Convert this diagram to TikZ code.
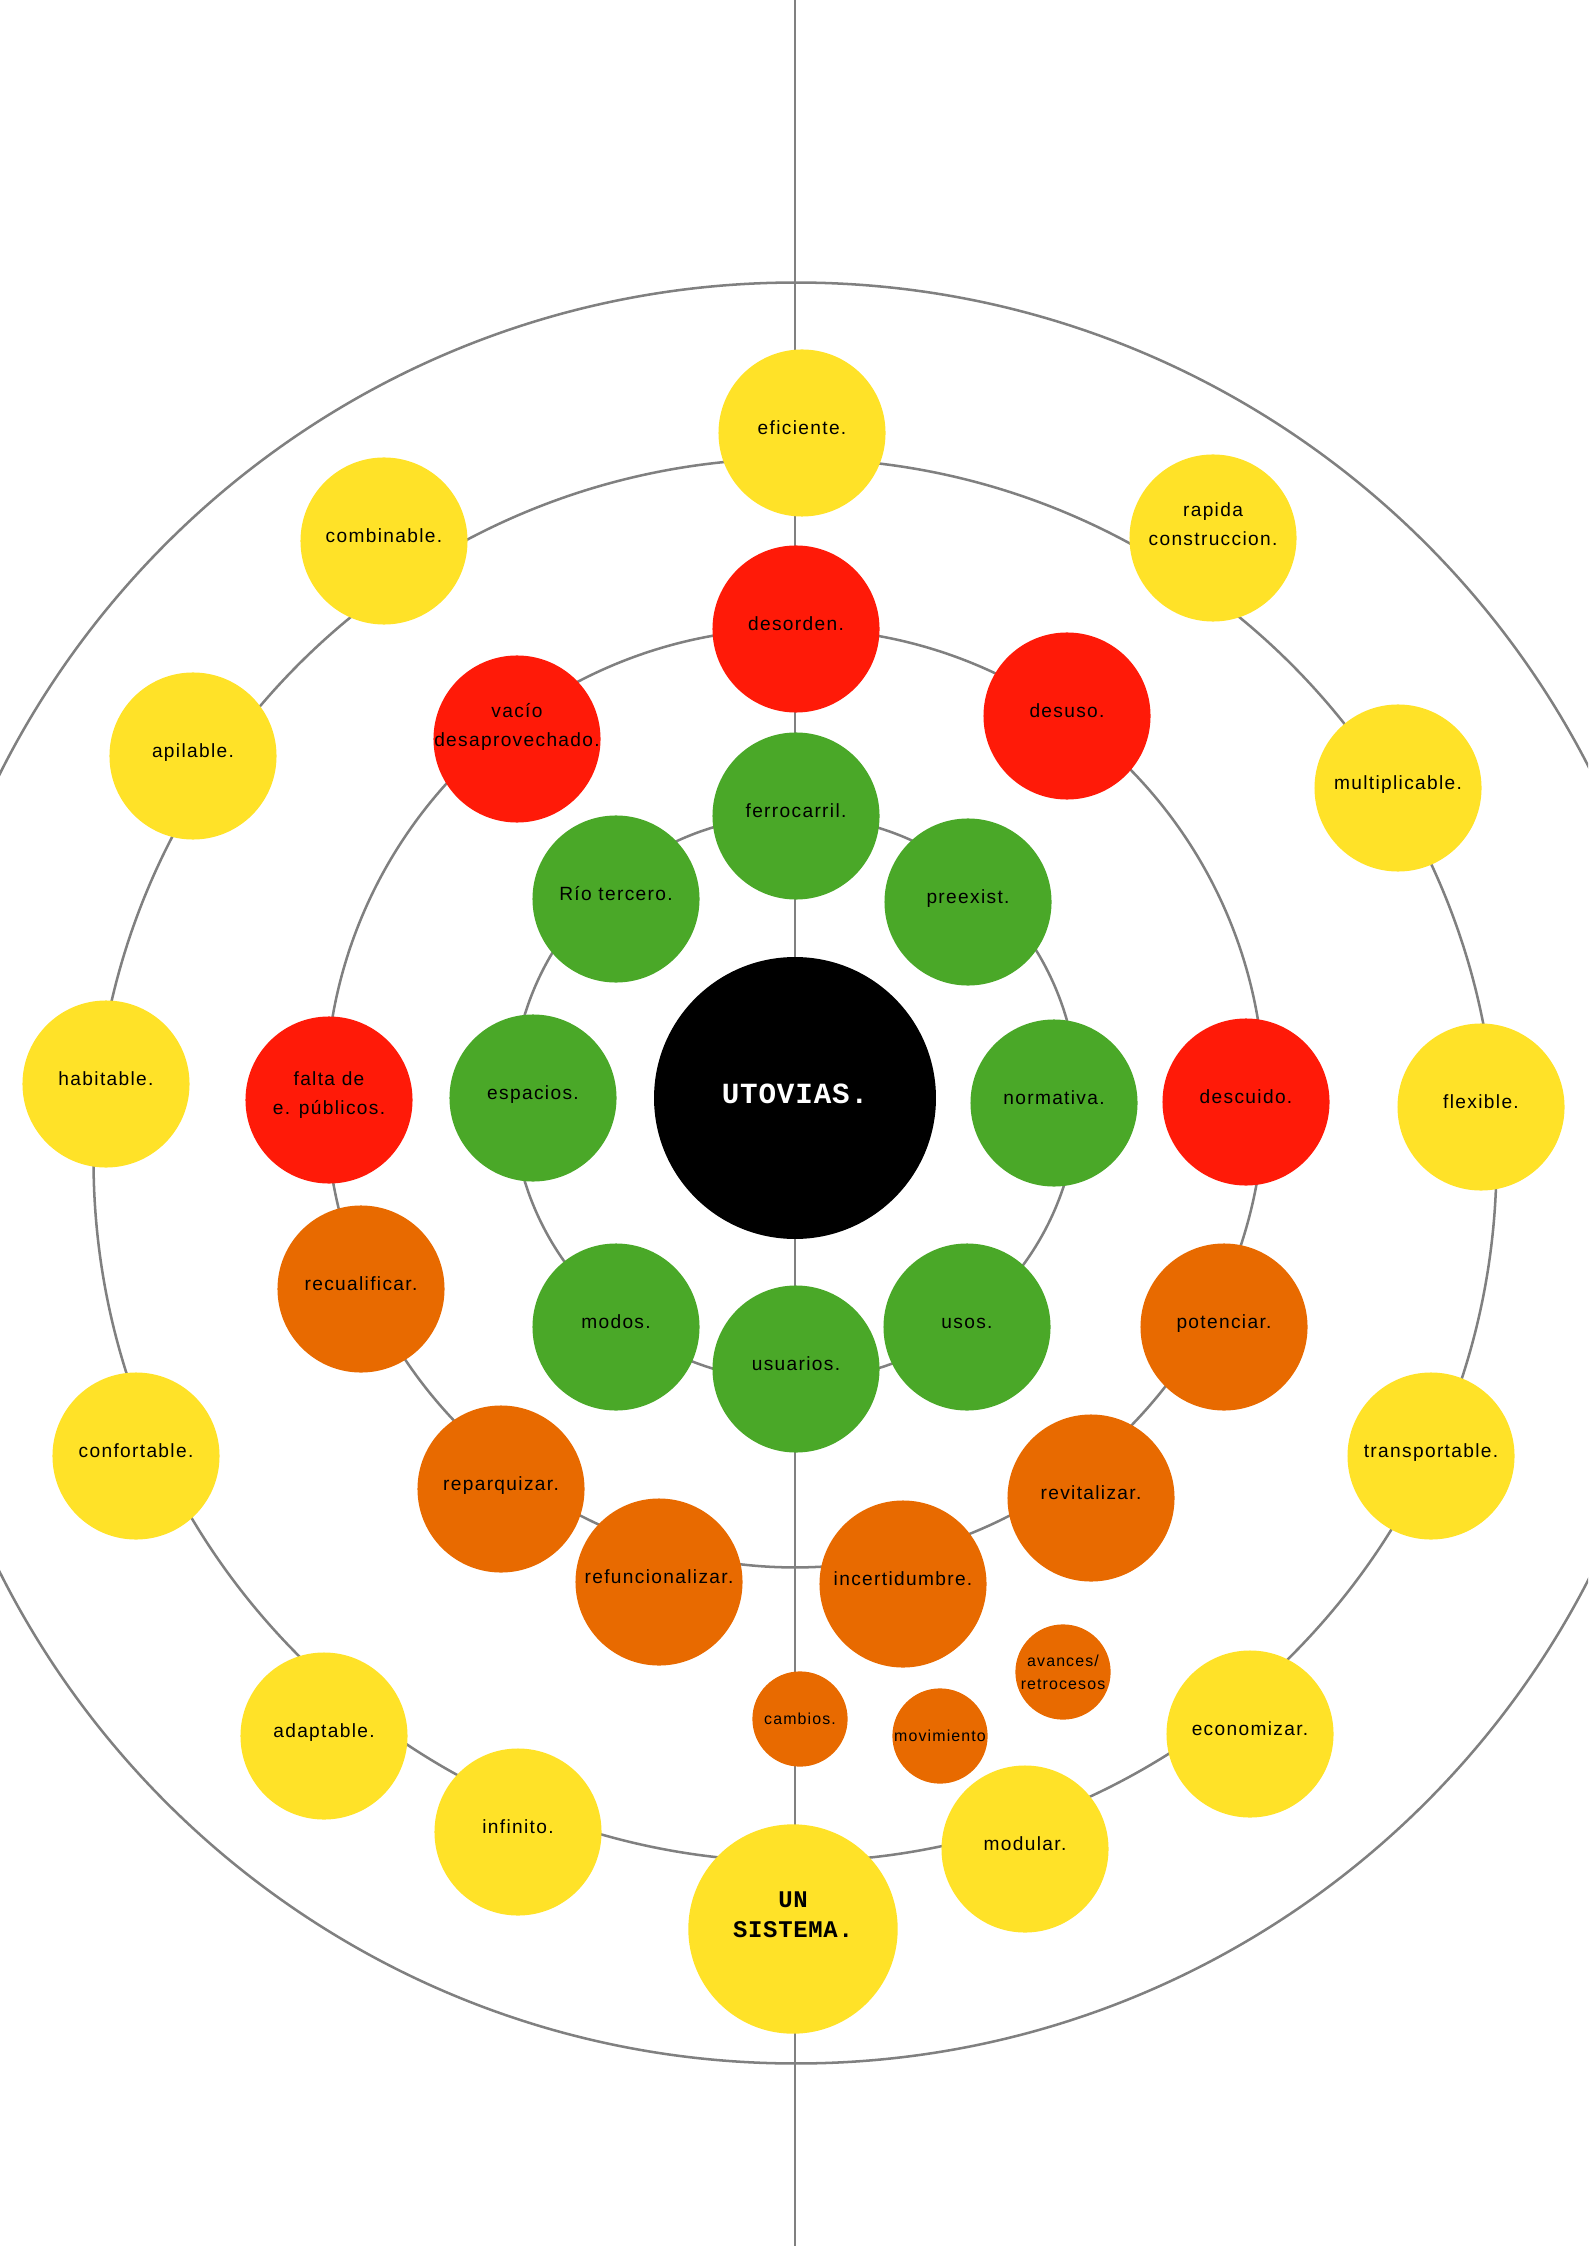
\documentclass[tikz,border=0pt]{standalone}
\usepackage{fontspec}
\setmainfont{Liberation Sans}[LetterSpace=7]
\newfontfamily\typefont{Liberation Mono}[LetterSpace=3]
\definecolor{utyellow}{RGB}{255,226,40}
\definecolor{utred}{RGB}{255,26,8}
\definecolor{utorange}{RGB}{232,106,0}
\definecolor{utgreen}{RGB}{74,168,40}
\definecolor{utgray}{RGB}{128,128,128}

\begin{document}
\begin{tikzpicture}[x=0.013224cm, y=-0.013224cm,
    ring/.style={utgray, line width=0.95pt},
    bubble/.style={circle, minimum size=2.21cm, inner sep=0pt, align=center,
                   text height=5.3pt, text depth=4pt,
                   font=\fontsize{7.2}{10.9}\selectfont},
    twoline/.style={text height=10pt, text depth=4.7pt, inner xsep=-4pt},
    ybub/.style={bubble, fill=utyellow},
    rbub/.style={bubble, fill=utred},
    gbub/.style={bubble, fill=utgreen},
    obub/.style={bubble, fill=utorange},
    small/.style={circle, fill=utorange, minimum size=1.26cm, inner sep=0pt,
                  align=center, font=\fontsize{6}{8.7}\selectfont},
    title/.style={circle, inner sep=0pt, align=center,
                  font=\typefont\bfseries\fontsize{11}{13}\selectfont}
  ]
    \useasboundingbox (0,0) rectangle (1588,2246);
    \clip (0,0) rectangle (1588,2246);

    % Centres
    \coordinate (hub) at (795,1098);
    \coordinate (outerc) at (796,1173);
    \coordinate (yellowc) at (795,1160);
    \coordinate (axistop) at (795,0);
    \coordinate (axisbot) at (795,2246);

    % Axis and rings
    \draw[ring] (axistop) -- (axisbot);
    \draw[ring] (outerc) circle [radius=11.78cm];
    \draw[ring] (yellowc) circle [radius=9.28cm];
    \draw[ring] (hub) circle [radius=6.21cm];
    \draw[ring] (hub) circle [radius=3.74cm];

    % Core
    \node[title, fill=black, text=white, minimum size=3.73cm,
          text height=9pt, text depth=4.6pt] (utovias) at (hub) {UTOVIAS.};

    % Green ring
    \node[gbub] (ferro) at (796,816) {ferrocarril.};
    \node[gbub] (rio) at (616,899) {Río tercero.};
    \node[gbub] (preex) at (968,902) {preexist.};
    \node[gbub] (espacios) at (533,1098) {espacios.};
    \node[gbub] (normativa) at (1054,1103) {normativa.};
    \node[gbub] (modos) at (616,1327) {modos.};
    \node[gbub] (usos) at (967,1327) {usos.};
    \node[gbub] (usuarios) at (796,1369) {usuarios.};

    % Red ring
    \node[rbub] (desorden) at (796,629) {desorden.};
    \node[rbub, twoline] (vacio) at (517,739) {vacío\\desaprovechado.};
    \node[rbub] (desuso) at (1067,716) {desuso.};
    \node[rbub, twoline, text height=14pt, text depth=3.3pt] (falta) at (329,1100) {falta de\\e. públicos.};
    \node[rbub] (descuido) at (1246,1102) {descuido.};

    % Orange ring
    \node[obub] (recual) at (361,1289) {recualificar.};
    \node[obub] (potenciar) at (1224,1327) {potenciar.};
    \node[obub] (reparq) at (501,1489) {reparquizar.};
    \node[obub] (revital) at (1091,1498) {revitalizar.};
    \node[obub] (refunc) at (659,1582) {refuncionalizar.};
    \node[obub] (incert) at (903,1584) {incertidumbre.};
    \node[small] (cambios) at (800,1719) {cambios.};
    \node[small] (movim) at (940,1736) {movimiento};
    \node[small] (avances) at (1063,1672) {avances/\\retrocesos};

    % Yellow ring
    \node[ybub] (eficiente) at (802,433) {eficiente.};
    \node[ybub] (combinable) at (384,541) {combinable.};
    \node[ybub, twoline] (rapida) at (1213,538) {rapida\\construccion.};
    \node[ybub] (apilable) at (193,756) {apilable.};
    \node[ybub] (multipl) at (1398,788) {multiplicable.};
    \node[ybub] (habitable) at (106,1084) {habitable.};
    \node[ybub] (flexible) at (1481,1107) {flexible.};
    \node[ybub] (confort) at (136,1456) {confortable.};
    \node[ybub] (transp) at (1431,1456) {transportable.};
    \node[ybub] (adaptable) at (324,1736) {adaptable.};
    \node[ybub] (economizar) at (1250,1734) {economizar.};
    \node[ybub] (infinito) at (518,1832) {infinito.};
    \node[ybub] (modular) at (1025,1849) {modular.};
    \node[title, fill=utyellow, minimum size=2.77cm, text height=17pt, text depth=10.5pt,
          font=\typefont\bfseries\fontsize{9}{11.3}\selectfont] (sistema) at (793,1929) {UN\\SISTEMA.};
  \end{tikzpicture}
\end{document}
